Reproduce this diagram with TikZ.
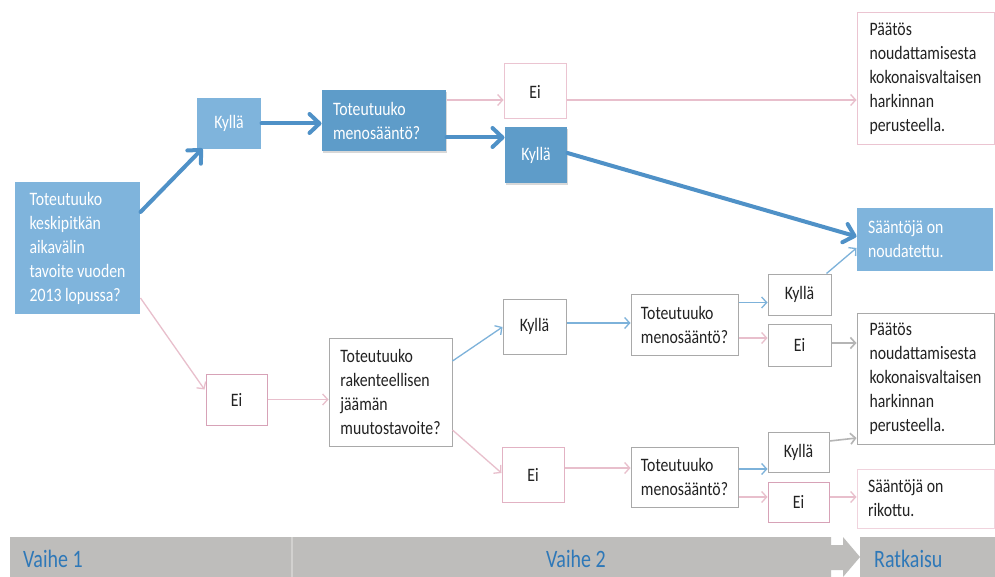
\documentclass[tikz,border=0pt]{standalone}
\usepackage{fontspec}
\setmainfont{Carlito}[FakeStretch=0.83]
\newfontfamily\barfont{Carlito}[FakeStretch=0.8]
\usetikzlibrary{arrows.meta,calc,shadows}
\definecolor{lb}{HTML}{7FB4DC}
\definecolor{db}{HTML}{5E9CC9}
\definecolor{thickb}{HTML}{4F91C7}
\definecolor{thinb}{HTML}{7DB2DA}
\definecolor{pinkA}{HTML}{E8BFCC}
\definecolor{pinkL}{HTML}{EBC4D1}
\definecolor{pinkD}{HTML}{D7A2B7}
\definecolor{pinkM}{HTML}{E2B2C3}
\definecolor{pinkV}{HTML}{F0D3DD}
\definecolor{grayB}{HTML}{A9A9A9}
\definecolor{grayA}{HTML}{B5B5B5}
\definecolor{barg}{HTML}{BEBDBB}
\definecolor{sepg}{HTML}{D2D1CF}
\definecolor{bartext}{HTML}{2E78B8}
\definecolor{txt}{HTML}{222222}
\tikzset{
  box/.style={rectangle, inner sep=0pt, line width=1pt, font=\fontsize{19}{24}\selectfont, text=txt, align=left},
  lightbox/.style={box, fill=lb, text=white},
  darkbox/.style={box, fill=db, text=white, drop shadow={shadow xshift=1.2pt, shadow yshift=-1.8pt, opacity=0.3}},
  pinkbox/.style={box, fill=white, draw=#1},
  graybox/.style={box, fill=white, draw=grayB},
  thickarrow/.style={draw=thickb, line width=4pt, line cap=round, -{Straight Barb[length=10pt,width=19pt,round]}},
  bluearrow/.style={draw=thinb, line width=1.3pt, -{Straight Barb[length=5pt,width=11pt]}},
  pinkarrow/.style={draw=pinkA, line width=1.3pt, -{Straight Barb[length=5pt,width=11pt]}},
  grayarrow/.style={draw=grayA, line width=1.6pt, -{Straight Barb[length=5pt,width=11pt]}},
  bartxt/.style={text=bartext, font=\barfont\fontsize{25}{27}\selectfont, inner sep=0pt, anchor=base west}
}
\begin{document}
\begin{tikzpicture}[x=1pt, y=-1pt]
\useasboundingbox (0,0) rectangle (995,577);
\fill[white] (0,0) rectangle (995,577);

% nodes
\node[lightbox, minimum width=125pt, minimum height=132pt] (start) at (77.5,248)
  {Toteutuuko\\keskipitkän\\aikavälin\\tavoite vuoden\\2013 lopussa?};
\node[lightbox, minimum width=64pt, minimum height=51pt, align=center] (kyl1) at (229,123.5) {Kyllä};
\node[darkbox, text width=102pt, inner xsep=11pt, minimum height=61pt, align=flush left] (meno1) at (384,120.5)
  {Toteutuuko\\menosääntö?};
\node[pinkbox=pinkL, minimum width=62pt, minimum height=55pt, align=center] (ei1) at (535,91.5) {Ei};
\node[darkbox, minimum width=62pt, minimum height=56pt, align=center] (kyl2) at (536,155) {Kyllä};
\node[pinkbox=pinkL, minimum width=137pt, minimum height=132pt] (pat1) at (925.5,79)
  {Päätös\\noudattamisesta\\kokonaisvaltaisen\\harkinnan\\perusteella.};
\node[lightbox, text width=114pt, inner xsep=11pt, minimum height=63pt, align=flush left] (noud) at (925,239.5)
  {Sääntöjä on\\noudatettu.};

\node[pinkbox=pinkD, minimum width=61pt, minimum height=51pt, align=center] (ei2) at (236.5,399.5) {Ei};
\node[graybox, minimum width=123pt, minimum height=108pt] (rak) at (390.5,392)
  {Toteutuuko\\rakenteellisen\\jäämän\\muutostavoite?};
\node[graybox, minimum width=63pt, minimum height=55pt, align=center] (kyl3) at (534.5,326.5) {Kyllä};
\node[pinkbox=pinkM, minimum width=62pt, minimum height=55pt, align=center] (ei3) at (533,474.5) {Ei};
\node[graybox, minimum width=107pt, minimum height=61pt] (meno2) at (684.5,324.5)
  {Toteutuuko\\menosääntö?};
\node[graybox, minimum width=107pt, minimum height=60pt] (meno3) at (684.5,477)
  {Toteutuuko\\menosääntö?};
\node[graybox, minimum width=63pt, minimum height=41pt, align=center] (kyl4) at (799.5,294.5) {Kyllä};
\node[graybox, minimum width=63pt, minimum height=42pt, align=center] (ei4) at (799.5,345) {Ei};
\node[graybox, minimum width=61pt, minimum height=40pt, align=center] (kyl5) at (798.5,452) {Kyllä};
\node[pinkbox=pinkD, minimum width=61pt, minimum height=40pt, align=center] (ei5) at (798.5,502) {Ei};
\node[graybox, minimum width=137pt, minimum height=131pt] (pat2) at (925.5,378.5)
  {Päätös\\noudattamisesta\\kokonaisvaltaisen\\harkinnan\\perusteella.};
\node[pinkbox=pinkV, text width=115pt, inner xsep=11pt, minimum height=59pt, align=flush left] (rik) at (925.5,498.5)
  {Sääntöjä on\\rikottu.};

% connectors
\draw[thickarrow] ($(start.east)+(0,-36)$) -- ($(kyl1.south west)+(6,-1)$);
\draw[thickarrow] (kyl1.east) -- (kyl1.east -| meno1.west);
\draw[pinkarrow] ($(meno1.east)+(0,-20.5)$) -- ($(ei1.west)+(0,8.5)$);
\draw[thickarrow] ($(meno1.east)+(0,17)$) -- ($(kyl2.west)+(0,-17.5)$);
\draw[pinkarrow] ($(ei1.east)+(0,8.5)$) -- ($(pat1.west)+(0,21)$);
\draw[thickarrow] ($(kyl2.east)+(0,-2)$) -- ($(noud.west)+(0,-3)$);
\draw[pinkarrow] ($(start.east)+(0,50)$) -- ($(ei2.north west)+(-1,16)$);
\draw[pinkarrow] (ei2.east) -- (ei2.east -| rak.west);
\draw[bluearrow] ($(rak.east)+(0,-31)$) -- ($(kyl3.west)+(0,0.5)$);
\draw[pinkarrow] ($(rak.east)+(0,38)$) -- ($(ei3.west)+(0,-1.5)$);
\draw[bluearrow] ($(kyl3.east)+(0,-3.5)$) -- ($(meno2.west)+(0,-1.5)$);
\draw[pinkarrow] ($(ei3.east)+(0,-6.5)$) -- ($(meno3.west)+(0,-9)$);
\draw[bluearrow] ($(meno2.east)+(0,-22)$) -- ($(kyl4.west)+(0,8)$);
\draw[pinkarrow] ($(meno2.east)+(0,13.5)$) -- ($(ei4.west)+(0,-7)$);
\draw[bluearrow] ($(kyl4.north east)+(-5,0)$) -- ($(noud.west)+(0,8.5)$);
\draw[grayarrow] ($(ei4.east)+(0,-2)$) -- ($(pat2.west)+(0,-35.5)$);
\draw[bluearrow] ($(meno3.east)+(0,-8)$) -- ($(kyl5.west)+(0,17)$);
\draw[pinkarrow] ($(meno3.east)+(0,20)$) -- ($(ei5.west)+(0,-5)$);
\draw[grayarrow] ($(kyl5.east)+(0,-11)$) -- ($(pat2.west)+(0,59.5)$);
\draw[pinkarrow] ($(ei5.east)+(0,-5)$) -- ($(rik.west)+(0,-1.5)$);

% bottom bar
\fill[barg] (10,537) -- (831,537) -- (831,545) -- (843,545) -- (843,537) -- (860,557)
  -- (843,577) -- (843,570) -- (831,570) -- (831,577) -- (10,577) -- cycle;
\draw[sepg, line width=2pt] (292,537) -- (292,577);
\fill[barg] (860,537) rectangle (995,577);
\node[bartxt] (v1) at (23,567) {Vaihe 1};
\node[bartxt] (v2) at (546,567) {Vaihe 2};
\node[bartxt] (rat) at (874,567) {Ratkaisu};
\end{tikzpicture}
\end{document}
